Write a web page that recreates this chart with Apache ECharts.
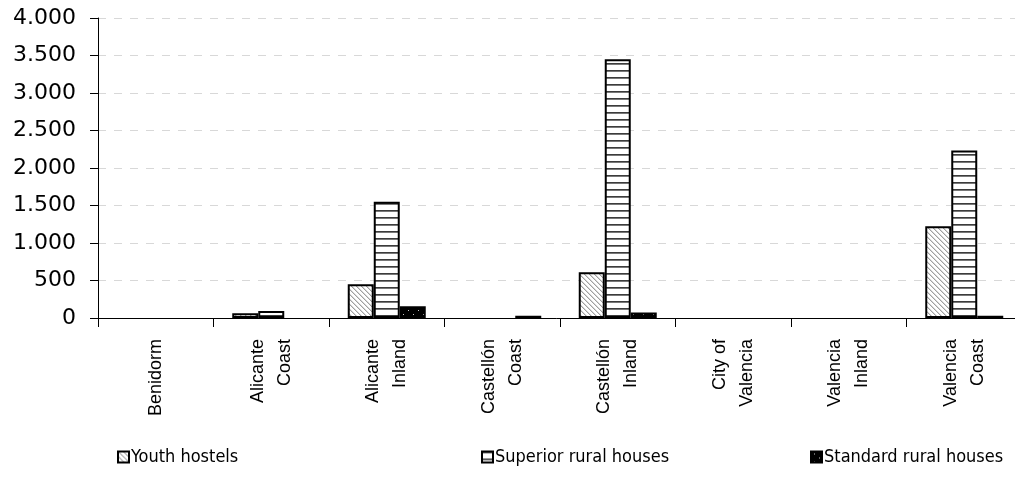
<!DOCTYPE html>
<html>
<head>
<meta charset="utf-8">
<script src="https://cdn.jsdelivr.net/npm/echarts@6/dist/echarts.min.js"></script>
<style>
html,body{margin:0;padding:0;background:#fff;}
#chart{width:1015px;height:493px;}
</style>
</head>
<body>
<div id="chart"></div>
<script>
// ---- data ----
const categories = ['Benidorm', 'Alicante\nCoast', 'Alicante\nInland', 'Castellón\nCoast', 'Castellón\nInland', 'City of\nValencia', 'Valencia\nInland', 'Valencia\nCoast'];
const youthHostels = [0, 62, 450, 0, 610, 0, 0, 1225];
const superiorRural = [0, 92, 1550, 0, 3450, 0, 0, 2235];
const standardRural = [0, 0, 158, 30, 75, 0, 0, 30];
const seriesNames = ['Youth hostels', 'Superior rural houses', 'Standard rural houses'];
const yTicks = [0, 500, 1000, 1500, 2000, 2500, 3000, 3500, 4000];

// ---- patterns ----
function makeTile(w, h, fn) {
  const c = document.createElement('canvas');
  c.width = w; c.height = h;
  const ctx = c.getContext('2d');
  const img = ctx.createImageData(w, h);
  for (let y = 0; y < h; y++) for (let x = 0; x < w; x++) {
    const v = fn(x, y);
    const i = (y * w + x) * 4;
    img.data[i] = v; img.data[i + 1] = v; img.data[i + 2] = v; img.data[i + 3] = 255;
  }
  ctx.putImageData(img, 0, 0);
  return c;
}
const hatchTile = makeTile(5, 5, (x, y) => {
  const d = ((x - y) % 5 + 5) % 5;
  return d === 0 ? 160 : (d === 1 ? 215 : 255);
});
const hlineTile = makeTile(4, 7, (x, y) => (y === 0 ? 60 : (y === 1 ? 120 : 255)));
const dotTile = makeTile(10, 8, (x, y) => ((x === 3 && y === 2) || (x === 8 && y === 6) ? 200 : 0));

const patterns = [
  { image: hatchTile, repeat: 'repeat' },
  { image: hlineTile, repeat: 'repeat' },
  { image: dotTile, repeat: 'repeat' }
];
const dataSets = [youthHostels, superiorRural, standardRural];

const chart = echarts.init(document.getElementById('chart'), null, { renderer: 'canvas' });
const legendLefts = [117, 481, 810];

const option = {
  animation: false,
  backgroundColor: '#fff',
  grid: { left: 98, top: 18, width: 924, height: 300, containLabel: false, outerBoundsMode: 'none' },
  legend: seriesNames.map((n, i) => ({
    data: [n],
    left: legendLefts[i],
    top: 448,
    itemWidth: 11,
    itemHeight: 11,
    itemGap: 3,
    icon: 'rect',
    textStyle: { fontFamily: 'DejaVu Sans Condensed', fontSize: 18, color: '#000', padding: [0, 0, 0, -3] },
    padding: 0
  })),
  xAxis: {
    type: 'category',
    data: categories,
    boundaryGap: true,
    axisLine: { lineStyle: { color: '#000', width: 1 } },
    axisTick: { show: true, length: 9, lineStyle: { color: '#000' } },
    axisLabel: {
      rotate: 90,
      interval: 0,
      margin: 21,
      fontFamily: 'Liberation Sans',
      fontSize: 18,
      lineHeight: 27,
      color: '#000'
    },
    splitLine: { show: false }
  },
  yAxis: {
    type: 'value',
    min: 0,
    max: 4000,
    interval: 500,
    axisLine: { show: true, lineStyle: { color: '#000', width: 1 } },
    axisTick: { show: true, length: 8, lineStyle: { color: '#000' } },
    axisLabel: {
      margin: 22,
      fontFamily: 'DejaVu Sans',
      fontSize: 22,
      color: '#000',
      formatter: v => yTicks.includes(v) ? String(v).replace(/\B(?=(\d{3})+(?!\d))/g, '.') : ''
    },
    splitLine: { show: true, lineStyle: { color: '#d8d8d8', type: [8, 8], width: 1 } }
  },
  series: seriesNames.map((n, i) => ({
    name: n,
    type: 'bar',
    data: dataSets[i].map(v => (v === 0 ? null : v)),
    barWidth: 26,
    barGap: '0%',
    itemStyle: { color: patterns[i], borderColor: '#000', borderWidth: 2 }
  }))
};
chart.setOption(option);
</script>
</body>
</html>
